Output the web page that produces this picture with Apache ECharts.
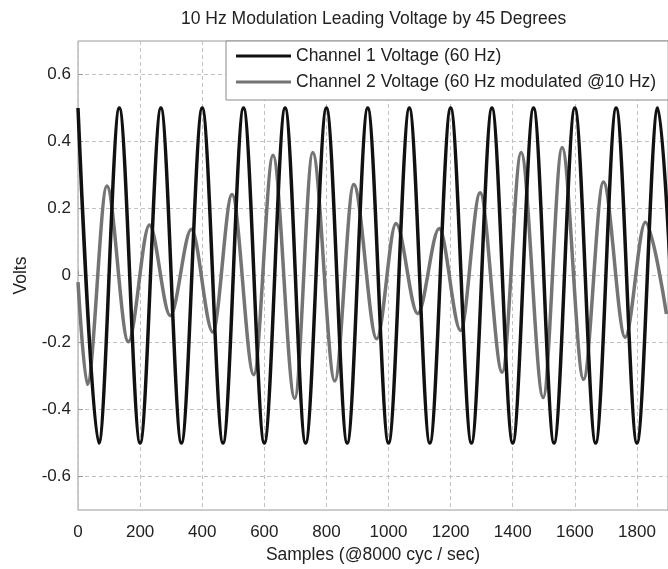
<!DOCTYPE html>
<html>
<head>
<meta charset="utf-8">
<script src="https://cdn.jsdelivr.net/npm/echarts@6/dist/echarts.min.js"></script>
<style>
  html, body { margin: 0; padding: 0; background: #fff; }
  #chart { width: 668px; height: 569px; }
</style>
</head>
<body>
<div id="chart"></div>
<script>
// peaks / troughs (sample index, volts)
var ch1X = [0, 67, 133, 200, 267, 333, 400, 467, 533, 600, 667, 733, 800, 867, 933,
            1000, 1067, 1133, 1200, 1267, 1333, 1400, 1467, 1533, 1600, 1667, 1733, 1800, 1867, 1933];
var ch1Y = [0.5, -0.5, 0.5, -0.5, 0.5, -0.5, 0.5, -0.5, 0.5, -0.5, 0.5, -0.5, 0.5, -0.5, 0.5,
            -0.5, 0.5, -0.5, 0.5, -0.5, 0.5, -0.5, 0.5, -0.5, 0.5, -0.5, 0.5, -0.5, 0.5, -0.5];

var ch2X = [0, 30, 93, 162, 230, 297, 365, 434, 496, 566, 628, 698, 756, 827, 888,
            962, 1024, 1094, 1163, 1232, 1295, 1366, 1427, 1498, 1559, 1628, 1692, 1762, 1827, 1895];
var ch2Y = [-0.02, -0.325, 0.267, -0.198, 0.151, -0.12, 0.138, -0.169, 0.242, -0.296, 0.359, -0.367, 0.367, -0.315, 0.272,
            -0.189, 0.155, -0.114, 0.14, -0.164, 0.247, -0.289, 0.367, -0.364, 0.382, -0.31, 0.279, -0.184, 0.159, -0.115];

var yTicks = [-0.6, -0.4, -0.2, 0, 0.2, 0.4, 0.6];
var names = ['Channel 1 Voltage (60 Hz)', 'Channel 2 Voltage (60 Hz modulated @10 Hz)'];

var font = 'Liberation Sans, Arial, Helvetica, sans-serif';
var gridLine = {lineStyle: {color: '#c2c2c2', width: 1, type: [4, 3]}};

function pairs(xs, ys) {
  return xs.map(function (x, i) { return [x, ys[i]]; });
}

var chart = echarts.init(document.getElementById('chart'));
chart.setOption({
  animation: false,
  backgroundColor: '#fff',
  textStyle: {fontFamily: font},
  title: {
    text: '10 Hz Modulation Leading Voltage by 45 Degrees',
    left: 176,
    top: 5,
    textStyle: {fontFamily: font, fontSize: 17.5, fontWeight: 'normal', color: '#222'}
  },
  legend: {
    data: names,
    orient: 'vertical',
    left: 226,
    top: 41,
    icon: 'rect',
    itemWidth: 55,
    itemHeight: 3,
    itemGap: 8,
    padding: [6, 12, 9, 10],
    backgroundColor: '#fff',
    borderColor: '#8a8a8a',
    borderWidth: 1,
    borderRadius: 0,
    textStyle: {fontFamily: font, fontSize: 17.5, color: '#222'}
  },
  grid: {
    left: 78,
    right: -10,
    top: 41,
    bottom: 48,
    show: true,
    borderColor: '#9a9a9a',
    borderWidth: 1
  },
  xAxis: {
    type: 'value',
    min: 0,
    max: 1900,
    interval: 200,
    name: 'Samples (@8000 cyc / sec)',
    nameLocation: 'middle',
    nameGap: 36,
    nameTextStyle: {fontFamily: font, fontSize: 17.5, color: '#222'},
    axisLine: {show: false},
    axisTick: {inside: true, length: 5, lineStyle: {color: '#9a9a9a'}},
    axisLabel: {
      fontFamily: font, fontSize: 17, color: '#222', margin: 14, showMaxLabel: false,
      formatter: function (v) { return String(v); }
    },
    splitLine: gridLine
  },
  yAxis: {
    type: 'value',
    min: -0.7,
    max: 0.7,
    name: 'Volts',
    nameLocation: 'middle',
    nameRotate: 90,
    nameGap: 48,
    nameTextStyle: {fontFamily: font, fontSize: 17.5, color: '#222'},
    axisLine: {show: false},
    axisTick: {inside: true, length: 5, customValues: yTicks, lineStyle: {color: '#9a9a9a'}},
    axisLabel: {fontFamily: font, fontSize: 17, color: '#222', margin: 7, customValues: yTicks},
    splitLine: Object.assign({customValues: yTicks}, gridLine)
  },
  series: [
    {
      name: names[1],
      type: 'line',
      data: pairs(ch2X, ch2Y),
      symbol: 'none',
      smooth: 0.33,
      smoothMonotone: 'x',
      lineStyle: {color: '#747474', width: 3.5},
      itemStyle: {color: '#747474'}
    },
    {
      name: names[0],
      type: 'line',
      data: pairs(ch1X, ch1Y),
      symbol: 'none',
      smooth: 0.33,
      smoothMonotone: 'x',
      lineStyle: {color: '#111', width: 3.5},
      itemStyle: {color: '#111'}
    }
  ]
});
</script>
</body>
</html>
